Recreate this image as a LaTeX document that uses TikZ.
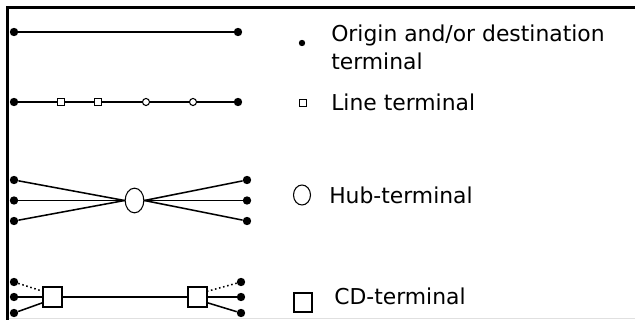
\documentclass[tikz,border=0pt]{standalone}
\usepackage{fontspec}
\setmainfont{DejaVu Sans}
\usetikzlibrary{shapes.geometric}
\begin{document}
\begin{tikzpicture}[x=0.75pt,y=-0.75pt,
  odpt/.style={circle,fill=black,inner sep=0pt,minimum size=6.3pt},
  lterm/.style={rectangle,draw,fill=white,inner sep=0pt,minimum size=5.3pt,line width=0.8pt},
  cterm/.style={circle,draw,fill=white,inner sep=0pt,minimum size=5.3pt,line width=0.8pt},
  hub/.style={ellipse,draw,fill=white,inner sep=0pt,minimum width=14pt,minimum height=18.5pt,line width=0.8pt},
  cdbox/.style={rectangle,draw,fill=white,inner sep=0pt,minimum width=14.25pt,minimum height=15pt,line width=0.8pt},
  link/.style={line width=1.15pt},
  trunk/.style={line width=2pt},
  legtext/.style={anchor=base west,inner sep=0pt,font=\fontsize{16.4}{21}\selectfont}
]
\useasboundingbox (0,0) rectangle (635,320);
\fill[white] (0,0) rectangle (635,320);
% frame
\draw[line width=1.9pt] (7.5,320) -- (7.5,7.5) -- (635,7.5);
\draw[black!12,line width=0.75pt] (8.5,318.8) -- (635,318.8);

% row 1
\node[odpt] (a1) at (14,32) {};
\node[odpt] (a2) at (238,32) {};
\draw[link] (a1) -- (a2);

% row 2
\node[odpt] (b1) at (14,102) {};
\node[lterm] (b2) at (61,102) {};
\node[lterm] (b3) at (98,102) {};
\node[cterm] (b4) at (146,102) {};
\node[cterm] (b5) at (193,102) {};
\node[odpt] (b6) at (238,102) {};
\draw[link] (b1) -- (b2) -- (b3) -- (b4) -- (b5) -- (b6);

% row 3 hub
\node[hub] (h) at (134.5,200.5) {};
\node[odpt] (hl1) at (14,180) {};
\node[odpt] (hl2) at (14,200.5) {};
\node[odpt] (hl3) at (14,221) {};
\node[odpt] (hr1) at (247,180) {};
\node[odpt] (hr2) at (247,200.5) {};
\node[odpt] (hr3) at (247,221) {};
\draw[link] (hl1) -- (h.west);
\draw[link] (hl2) -- (h.west);
\draw[link] (hl3) -- (h.west);
\draw[link] (hr1) -- (h.east);
\draw[link] (hr2) -- (h.east);
\draw[link] (hr3) -- (h.east);

% row 4 CD
\node[cdbox] (cl) at (52.5,297) {};
\node[cdbox] (cr) at (197.5,297) {};
\node[odpt] (dl1) at (14,282) {};
\node[odpt] (dl2) at (14,297) {};
\node[odpt] (dl3) at (14,313) {};
\node[odpt] (dr1) at (241,282) {};
\node[odpt] (dr2) at (241,297) {};
\node[odpt] (dr3) at (241,313) {};
\draw[link,dotted] (dl1) -- (cl.150);
\draw[trunk] (dl2) -- (cl.west);
\draw[link] (dl3) -- (cl.210);
\draw[trunk] (cl) -- (cr);
\draw[link,dotted] (dr1) -- (cr.30);
\draw[trunk] (dr2) -- (cr.east);
\draw[link] (dr3) -- (cr.-30);

% legend
\node[odpt,minimum size=4.8pt] (k1) at (302,43) {};
\node[legtext] (t1) at (331,42) {Origin and/or destination};
\node[legtext] (t1b) at (331,70) {terminal};
\node[lterm] (k2) at (303,103) {};
\node[legtext] (t2) at (331,111) {Line terminal};
\node[hub,minimum width=12.75pt,minimum height=15pt] (k3) at (302,195) {};
\node[legtext] (t3) at (329,204) {Hub-terminal};
\node[cdbox,minimum width=13.5pt,minimum height=14.25pt] (k4) at (303,302.5) {};
\node[legtext] (t4) at (334,305) {CD-terminal};
\end{tikzpicture}
\end{document}
